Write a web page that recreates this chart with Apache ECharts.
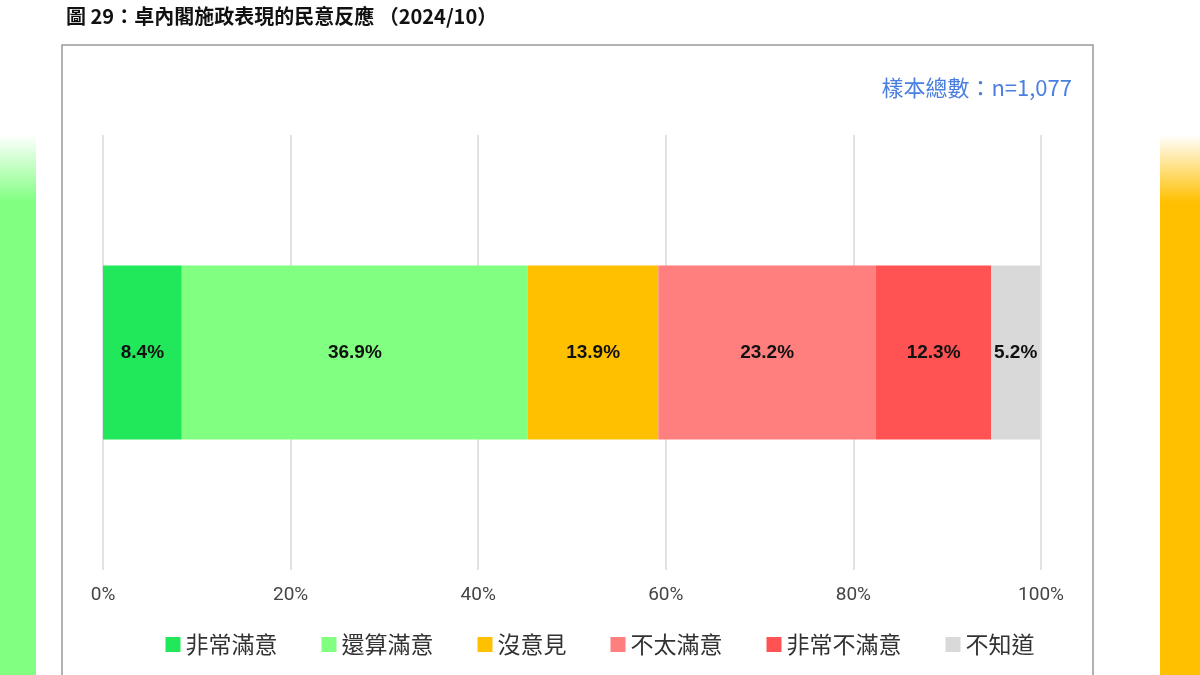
<!DOCTYPE html>
<html><head><meta charset="utf-8">
<script src="https://cdn.jsdelivr.net/npm/echarts@6/dist/echarts.min.js"></script>
<style>html,body{margin:0;padding:0;background:#fff}#c{width:1200px;height:675px}</style>
</head><body><div id="c"></div>
<script>
const categories = ['2024/10'];
const seriesNames = ['非常滿意','還算滿意','沒意見','不太滿意','非常不滿意','不知道'];
const seriesValues = [8.4, 36.9, 13.9, 23.2, 12.3, 5.2];
const colors = ['#20E85A','#80FF80','#FFC000','#FF7F7F','#FF5252','#D9D9D9'];
const tickLabels = ['0%','20%','40%','60%','80%','100%'];

const chart = echarts.init(document.getElementById('c'));
chart.setOption({
  backgroundColor:'#fff',
  animation:false,
  graphic:[
    {type:'rect',shape:{x:0,y:0,width:36,height:675},style:{fill:new echarts.graphic.LinearGradient(0,0,0,1,[{offset:0,color:'#fff'},{offset:0.2,color:'#fff'},{offset:0.3,color:'#80FF80'},{offset:1,color:'#80FF80'}])}},
    {type:'rect',shape:{x:1160,y:0,width:40,height:675},style:{fill:new echarts.graphic.LinearGradient(0,0,0,1,[{offset:0,color:'#fff'},{offset:0.2,color:'#fff'},{offset:0.3,color:'#FFC000'},{offset:1,color:'#FFC000'}])}},
    {type:'rect',shape:{x:62,y:45,width:1031,height:640},style:{fill:'none',stroke:'#999',lineWidth:1.5}},
    {type:'text',left:66,top:6,style:{text:'圖 29：卓內閣施政表現的民意反應 （2024/10）',font:'bold 20px "Noto Sans CJK TC"',fill:'#111'}},
    {type:'text',right:128,top:77,style:{text:'樣本總數：n=1,077',font:'22px "Noto Sans CJK TC"',fill:'#4A7FE0'}}
  ],
  grid:{left:103,right:159,top:135,bottom:105},
  xAxis:{type:'value',min:0,max:100,interval:20,
    axisLabel:{formatter:(v)=>tickLabels[v/20],color:'#444',fontSize:19,margin:16,fontFamily:'Roboto'},
    splitLine:{lineStyle:{color:'#d9d9d9',width:1.5}},axisLine:{show:false},axisTick:{show:false}},
  yAxis:{type:'category',data:categories,show:false},
  legend:{bottom:14,left:'center',itemWidth:15,itemHeight:15,itemGap:44,icon:'rect',
    textStyle:{fontSize:23,color:'#333',fontFamily:'"Noto Sans CJK TC"'}},
  series:seriesNames.map((n,i)=>({
    name:n,type:'bar',stack:'a',barWidth:174,
    itemStyle:{color:colors[i]},
    label:{show:true,position:'inside',formatter:(p)=>p.value.toFixed(1)+'%',color:'#111',fontWeight:'bold',fontSize:19,fontFamily:'Arial'},
    data:[seriesValues[i]]
  }))
});
</script></body></html>
